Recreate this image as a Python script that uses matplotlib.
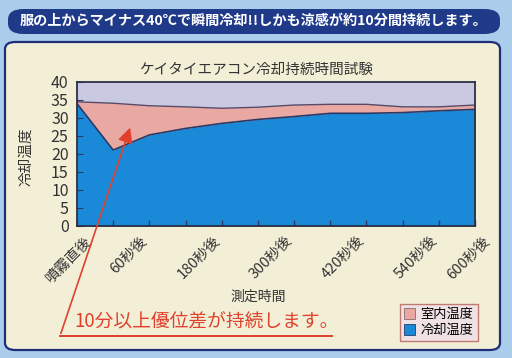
import numpy as np
import matplotlib.pyplot as plt
from matplotlib.patches import FancyBboxPatch
from matplotlib.lines import Line2D

plt.rcParams['font.family'] = ['Noto Sans CJK JP', 'DejaVu Sans']

# 12 measuring points (every other one is labelled)
categories = ['噴霧直後', '30秒後', '60秒後', '120秒後', '180秒後', '240秒後',
              '300秒後', '360秒後', '420秒後', '480秒後', '540秒後', '600秒後']
shown = [0, 2, 4, 6, 8, 10, 11]
shown_labels = ['噴霧直後', '60秒後', '180秒後', '300秒後', '420秒後', '540秒後', '600秒後']
room_temp = [34.5, 34.1, 33.4, 33.1, 32.7, 33.0, 33.6, 33.8, 33.8, 33.1, 33.1, 33.6]
cool_temp = [34.0, 21.1, 25.3, 27.1, 28.5, 29.6, 30.4, 31.3, 31.3, 31.5, 32.0, 32.4]

W, H = 512, 358
fig = plt.figure(figsize=(W / 100, H / 100), dpi=100)
fig.patch.set_facecolor('#a9cdea')

def fx(px):
    return px / W

def fy(py):
    return 1 - py / H

# cream panel
panel = FancyBboxPatch((fx(5), fy(350)), fx(495), fy(42) - fy(350),
                       boxstyle='round,pad=0,rounding_size=0.02',
                       transform=fig.transFigure, fc='#f3efd7', ec='#1e2f78', lw=1.6,
                       zorder=-10)
fig.add_artist(panel)

# banner
banner = FancyBboxPatch((fx(8), fy(34)), fx(492), fy(9) - fy(34),
                        boxstyle='round,pad=0,rounding_size=0.03',
                        transform=fig.transFigure, fc='#203a8a', ec='none', zorder=-10)
fig.add_artist(banner)
fig.text(fx(254), fy(21), '服の上からマイナス40℃で瞬間冷却!!しかも涼感が約10分間持続します。',
         color='white', fontsize=10.2, fontweight='bold', ha='center', va='center')

ax = fig.add_axes([fx(77), fy(226), fx(475) - fx(77), fy(82) - fy(226)])
x = np.arange(len(categories))
ax.set_facecolor('#c9c9e2')
ax.fill_between(x, 0, cool_temp, color='#1a8ad8', lw=0)
ax.fill_between(x, cool_temp, room_temp, color='#e9a8a2', lw=0)
ax.plot(x, cool_temp, color='#2b3a66', lw=1.2)
ax.plot(x, room_temp, color='#5a4a66', lw=1.0)
ax.set_xlim(0, len(categories) - 1)
ax.set_ylim(0, 40)
ax.set_yticks(range(0, 41, 5))
ax.set_xticks(x)
ax.set_xticklabels([''] * len(x))
ax.tick_params(axis='x', direction='in', length=4, color='#2b3a66', width=1)
ax.tick_params(axis='y', direction='in', length=4, color='#2b3a66', labelsize=11.5,
               labelcolor='#333333', pad=6)
for s in ax.spines.values():
    s.set_color('#2b2f45')
    s.set_linewidth(1.3)

for i, lab in zip(shown, shown_labels):
    off = 0.2 if i in (0, len(categories) - 1) else -0.25
    ax.text(i + off, -2.2, lab, rotation=45, ha='right', va='top',
            rotation_mode='anchor', fontsize=10.5, color='#333333',
            transform=ax.transData)

fig.text(fx(256), fy(70), 'ケイタイエアコン冷却持続時間試験', fontsize=10.5,
         color='#333333', ha='center', va='center')
fig.text(fx(26), fy(157), '冷却温度', rotation=90, ha='center', va='center',
         fontsize=10.5, color='#333333')
fig.text(fx(258), fy(297), '測定時間', ha='center', va='center',
         fontsize=10, color='#333333')

# legend
leg = ax.legend(handles=[plt.Rectangle((0, 0), 1, 1, fc='#e9a8a2', ec='#8a6a6a', lw=0.6),
                         plt.Rectangle((0, 0), 1, 1, fc='#1a8ad8', ec='#2b3a66', lw=0.6)],
                labels=['室内温度', '冷却温度'], loc='upper left',
                bbox_to_anchor=(fx(393), fy(297)), bbox_transform=fig.transFigure,
                fontsize=9.5, frameon=True, fancybox=False, handlelength=0.9,
                handleheight=0.9, handletextpad=0.4, borderpad=0.3, labelspacing=0.25)
leg.get_frame().set_facecolor('#efe1e4')
leg.get_frame().set_edgecolor('#c07a70')
leg.get_frame().set_alpha(1)

# red arrow and callout
red = '#e0402c'
fig.add_artist(Line2D([fx(60), fx(332)], [fy(336), fy(336)], color=red, lw=1.4,
                      transform=fig.transFigure))
ax.annotate('', xy=(fx(131), fy(125)), xytext=(fx(60), fy(336)),
            xycoords='figure fraction', textcoords='figure fraction',
            arrowprops=dict(arrowstyle='-|>,head_length=0.9,head_width=0.45',
                            color=red, lw=1.2), annotation_clip=False)
fig.text(fx(74), fy(322), '10分以上優位差が持続します。', color=red,
         fontsize=13.5, ha='left', va='center')

fig.savefig('out.png', dpi=100)
